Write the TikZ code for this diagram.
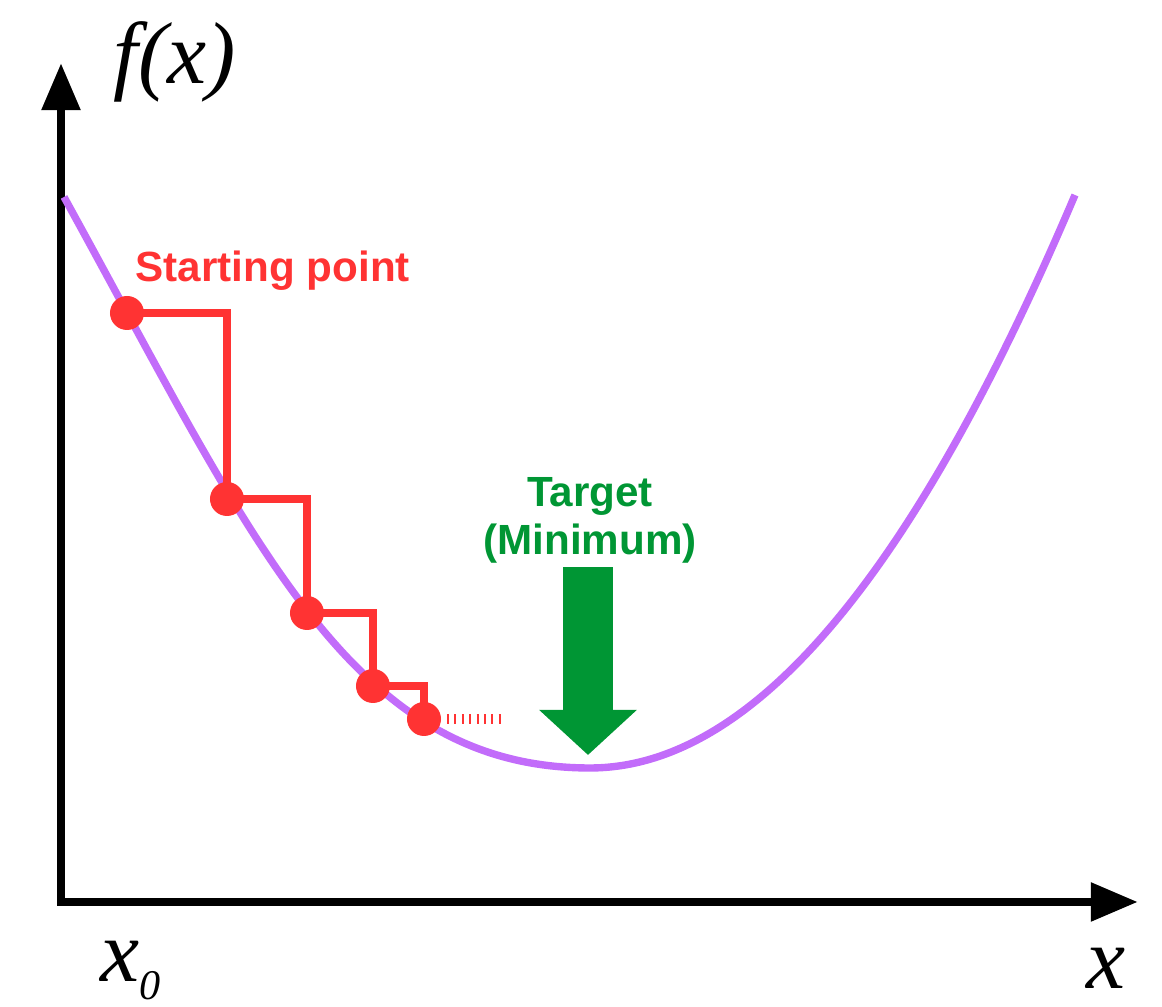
\documentclass[tikz,border=0pt]{standalone}
\usepackage{fontspec}
\setmainfont{Liberation Serif}
\newfontfamily\labelsans{Liberation Sans}
\usetikzlibrary{arrows.meta,positioning,calc}
\definecolor{curvepurple}{RGB}{194,108,250}
\definecolor{stepred}{RGB}{255,51,51}
\definecolor{targetgreen}{RGB}{0,150,52}
\tikzset{
  % Axes: heavy black lines, triangle heads at both free ends
  axis/.style={line width=2.5pt, line join=miter,
               {Triangle[length=13.4pt,width=10.5pt]}-{Triangle[length=13.4pt,width=10.5pt]}},
  % Cost curve
  costcurve/.style={draw=curvepurple, line width=2.1pt},
  % Descent steps, iterate points and the trailing dots
  steppath/.style={draw=stepred, line width=2.5pt, line join=miter},
  stepdot/.style={circle, fill=stepred, minimum size=0.34cm, inner sep=0pt},
  trailpath/.style={draw=stepred, line width=2.6pt, dash pattern=on 0.6pt off 1.5pt},
  % Labels
  axislabel/.style={font=\fontsize{25}{25}\selectfont\itshape, inner sep=0pt},
  steplabel/.style={font=\labelsans\bfseries\fontsize{12}{14}\selectfont, text=stepred, inner sep=0pt},
  targetlabel/.style={font=\labelsans\bfseries\fontsize{12}{13.7}\selectfont, text=targetgreen,
                      align=center, inner sep=0pt},
  % Big block arrow pointing at the minimum
  targetarrow/.style={draw=targetgreen, line width=14.2pt, -{Triangle[length=12.8pt,width=27pt]}}
}

\begin{document}
\begin{tikzpicture}[x=0.01cm, y=-0.01cm]
\useasboundingbox (0,0) rectangle (1162,1007);

% ============== AXES ==============
\coordinate (ytop) at (61,63);
\coordinate (xend) at (1138,902);
\draw[axis] (ytop) |- (xend);
\node[axislabel, anchor=base west] (flabel) at (113,84) {f(x)};
\node[axislabel, anchor=base west] (x0label) at (100,982)
  {x\raisebox{-5pt}{\fontsize{12}{12}\selectfont 0}};
\node[axislabel, anchor=base west] (xlabel) at (1086,989) {x};

% ============== COST CURVE ==============
\coordinate (cleft) at (64,197);
\coordinate (cmin) at (590,768);
\coordinate (cright) at (1075,195);
\draw[costcurve] (cleft) .. controls (254,542) and (350,768) .. (cmin)
  .. controls (752,768) and (913,577) .. (cright);

% ============== DESCENT STEPS ==============
\coordinate (s1) at (127,313);
\coordinate (s2) at (227,499);
\coordinate (s3) at (307,613);
\coordinate (s4) at (373,686);
\coordinate (s5) at (424,719);
\draw[steppath] (s1) -| (s2) -| (s3) -| (s4) -| (s5);
\foreach \i in {1,...,5}
  \node[stepdot] (dot\i) at (s\i) {};

\coordinate (trailend) at (505,719);
\draw[trailpath, shorten <=1.5pt] (dot5.east) -- (trailend);

\node[steplabel, anchor=base west] (startlabel) at (135,282) {Starting point};

% ============== TARGET ==============
\node[targetlabel, anchor=north] (target) at (590,477) {Target\\(Minimum)};
\coordinate (targettip) at (588,755);
\draw[targetarrow] ($(target.south)+(-2,3)$) -- (targettip);

\end{tikzpicture}
\end{document}
